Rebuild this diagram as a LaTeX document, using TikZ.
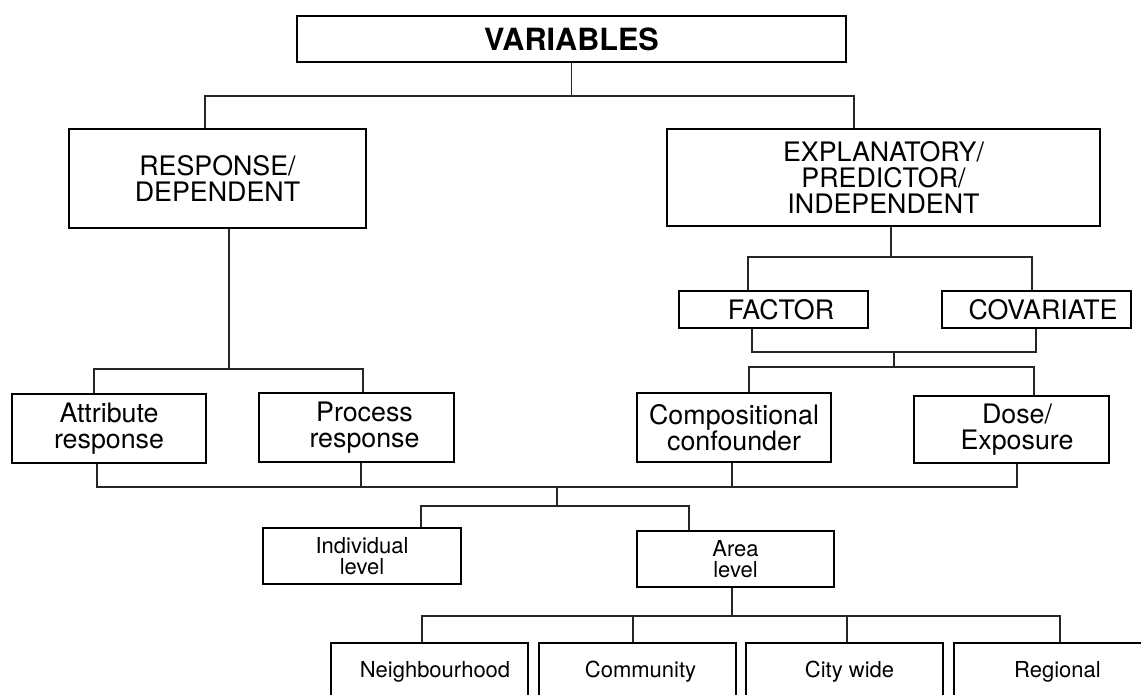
\documentclass[tikz,border=0pt]{standalone}
\usepackage{fontspec}
\setmainfont{TeX Gyre Heros}
\usetikzlibrary{calc}
% push a centred line to the right by the given amount
\newcommand\pushr[1]{\hspace*{#1}}
\begin{document}
\begin{tikzpicture}[x=0.5pt,y=-0.5pt,
  box/.style={draw=black, line width=1.45pt, fill=white, rectangle,
              inner sep=0pt, align=center},
  wh/.style 2 args={minimum width=#1*0.5pt, minimum height=#2*0.5pt},
  title/.style={box, font=\fontsize{15.3pt}{15.3pt}\selectfont\bfseries},
  big/.style={box, font=\fontsize{13.4pt}{13pt}\selectfont},
  small/.style={box, font=\fontsize{11pt}{10.5pt}\selectfont},
  link/.style={draw=black!85, line width=0.65pt}]
\clip (0,0) rectangle (1141,695);
\fill[white] (0,0) rectangle (1141,695);

% boxes
\node[title, wh={549}{46}] (vars) at (571.5,39) {VARIABLES};
\node[big, wh={297}{99}] (resp) at (217.5,178.5) {RESPONSE/\\DEPENDENT};
\node[big, wh={433}{97}] (expl) at (883.5,177.5) {EXPLANATORY/\\PREDICTOR/\\INDEPENDENT};
\node[big, wh={189}{37}] (factor) at (773.5,309.5) {\pushr{7.5pt}FACTOR};
\node[big, wh={189}{37}] (covar) at (1036.5,309.5) {\pushr{6.5pt}COVARIATE};
\node[big, wh={194}{69}] (attr) at (109,428.5) {Attribute\\response};
\node[big, wh={195}{69}] (proc) at (356.5,427.5) {\pushr{8pt}Process\\\pushr{8pt}response};
\node[big, wh={194}{69}] (comp) at (734,427.5) {Compositional\\confounder};
\node[big, wh={195}{67}] (dose) at (1011.5,429.5) {\pushr{5.5pt}Dose/\\\pushr{5.5pt}Exposure};
\node[small, wh={198}{56}] (indiv) at (362,556) {Individual\\level};
\node[small, wh={197}{56}] (area) at (735.5,559) {Area\\level};
\node[small, wh={197}{58}] (neigh) at (429.5,672) {\pushr{5.5pt}Neighbourhood};
\node[small, wh={197}{58}] (comm) at (637.5,672) {\pushr{3pt}Community};
\node[small, wh={197}{58}] (city) at (844.5,672) {\pushr{5pt}City wide};
\node[small, wh={197}{58}] (reg) at (1052.5,672) {\pushr{5pt}Regional};

% junction points of the tree
\coordinate (t1) at (571,96);
\coordinate (t2) at (229,369);
\coordinate (t3) at (891,257);
\coordinate (t4a) at (894,352);
\coordinate (t4b) at (894,367);
\coordinate (t5a) at (557,487);
\coordinate (t5b) at (557,506);
\coordinate (t6) at (732,616);

% variables -> response / explanatory
\draw[link] (vars.south) -- (vars.south |- t1);
\draw[link] ($(resp.north)+(-12.5,0)$) |- (t1) -| ($(expl.north)+(-29.5,0)$);

% response -> attribute / process
\draw[link] ($(resp.south)+(11.5,0)$) -- (t2);
\draw[link] ($(attr.north)+(-15,0)$) |- (t2) -| ($(proc.north)+(6.5,0)$);

% explanatory -> factor / covariate
\draw[link] ($(expl.south)+(7.5,0)$) -- (t3);
\draw[link] ($(factor.north)+(-25.5,0)$) |- (t3) -| ($(covar.north)+(-4.5,0)$);

% factor / covariate -> compositional / dose
\draw[link] ($(factor.south)+(-21.5,0)$) |- (t4a) -| ($(covar.south)+(-0.5,0)$);
\draw[link] (t4a) -- (t4b);
\draw[link] ($(comp.north)+(15,0)$) |- (t4b) -| ($(dose.north)+(22.5,0)$);

% all four -> individual / area level
\coordinate (procB) at ($(proc.south)+(4.5,0)$);
\coordinate (compB) at ($(comp.south)+(-2,0)$);
\draw[link] ($(attr.south)+(-12,0)$) |- (t5a) -| ($(dose.south)+(5.5,0)$);
\draw[link] (procB) -- (procB |- t5a);
\draw[link] (compB) -- (compB |- t5a);
\draw[link] (t5a) -- (t5b);
\draw[link] ($(indiv.north)+(59,0)$) |- (t5b) -| ($(area.north)+(-46.5,0)$);

% area level -> spatial scales
\coordinate (commT) at ($(comm.north)+(-4.5,0)$);
\coordinate (cityT) at ($(city.north)+(2.5,0)$);
\draw[link] ($(area.south)+(-3.5,0)$) -- (t6);
\draw[link] ($(neigh.north)+(-7.5,0)$) |- (t6) -| ($(reg.north)+(7.5,0)$);
\draw[link] (commT) -- (commT |- t6);
\draw[link] (cityT) -- (cityT |- t6);
\end{tikzpicture}
\end{document}
